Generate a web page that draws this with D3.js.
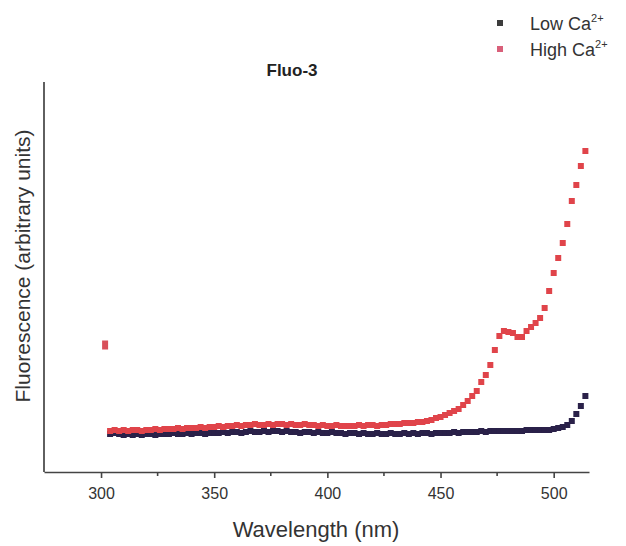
<!DOCTYPE html>
<html>
<head>
<meta charset="utf-8">
<script src="https://cdn.jsdelivr.net/npm/d3@7"></script>
<style>
  body { margin: 0; background: #fff; }
  svg { display: block; font-family: "Liberation Sans", Arial, sans-serif; }
</style>
</head>
<body>
<div id="chart"></div>
<script>
// wavelength (nm), sampled every 2 nm
const wavelength = [304,306,308,310,312,314,316,318,320,322,324,326,328,330,332,334,336,338,340,342,344,346,348,350,352,354,356,358,360,362,364,366,368,370,372,374,376,378,380,382,384,386,388,390,392,394,396,398,400,402,404,406,408,410,412,414,416,418,420,422,424,426,428,430,432,434,436,438,440,442,444,446,448,450,452,454,456,458,460,462,464,466,468,470,472,474,476,478,480,482,484,486,488,490,492,494,496,498,500,502,504,506,508,510,512,514];

// fluorescence, arbitrary units
const lowCa = [38,39,38,37,38,37,38,37,38,38,37,38,38,38,39,38,38,39,38,39,39,38,39,39,39,40,39,40,40,39,40,41,40,40,41,40,41,41,40,41,40,40,39,40,40,39,40,39,39,40,39,39,38,39,39,38,39,38,38,39,38,38,39,38,38,39,38,39,38,39,39,38,39,39,39,39,40,39,40,40,40,40,41,40,41,41,41,41,41,41,41,41,42,42,42,42,42,42,43,44,45,47,51,58,66,76];
const highCa = [41,42,41,42,41,42,42,41,42,42,43,42,43,43,43,44,43,44,44,44,45,44,45,45,46,45,46,46,47,46,47,47,48,47,47,48,47,48,48,47,48,47,47,48,47,47,46,47,46,46,47,46,46,46,46,47,46,47,47,46,47,47,48,48,48,49,49,49,50,50,51,52,54,55,57,59,61,63,67,71,76,81,90,97,107,122,136,141,140,139,135,135,141,145,149,154,164,181,199,214,229,248,271,287,306,321];
// stray first point of the high-Ca scan
const highCaStart = [[301.8, 127]];

const xTicks = [300, 350, 400, 450, 500];
const xMinor = [325, 375, 425, 475];

const series = [
  { name: "Low Ca", values: lowCa, color: "#2a2149", legend: "#3c3c3c" },
  { name: "High Ca", values: highCa, color: "#e0444a", legend: "#d9607a" }
];

const width = 626, height = 546;
const m = { left: 44, right: 589, top: 82, bottom: 472 };

const x = d3.scaleLinear().domain([274.8, 515.6]).range([m.left, m.right]);
const y = d3.scaleLinear().domain([0, 390]).range([m.bottom, m.top]);

const svg = d3.select("#chart").append("svg")
  .attr("width", width)
  .attr("height", height);

// markers
const ms = 6;
series.forEach(s => {
  svg.append("g")
    .attr("fill", s.color)
    .selectAll("rect")
    .data(wavelength.map((w, i) => [w, s.values[i]]))
    .join("rect")
      .attr("x", d => x(d[0]) - ms / 2)
      .attr("y", d => y(d[1]) - ms / 2)
      .attr("width", ms)
      .attr("height", ms);
});
svg.append("g")
  .attr("fill", "#d8505a")
  .selectAll("rect")
  .data(highCaStart)
  .join("rect")
    .attr("x", d => x(d[0]) - 3)
    .attr("y", d => y(d[1]) - 4.5)
    .attr("width", 6)
    .attr("height", 9);

// axes
const axisColor = "#444";
svg.append("line")
  .attr("x1", m.left).attr("x2", m.left)
  .attr("y1", m.top).attr("y2", m.bottom)
  .attr("stroke", axisColor).attr("stroke-width", 1.7);

const xAxis = svg.append("g")
  .attr("transform", `translate(0,${m.bottom})`)
  .call(d3.axisBottom(x).tickValues(xTicks).tickSize(6).tickPadding(10).tickSizeOuter(0));
xAxis.select(".domain").attr("stroke", axisColor).attr("stroke-width", 1.7);
xAxis.selectAll(".tick line").attr("stroke", axisColor).attr("stroke-width", 1.6);
xAxis.selectAll(".tick text")
  .attr("fill", "#333")
  .style("font-size", "16px")
  .style("font-family", "\"Liberation Sans\", Arial, sans-serif");

svg.append("g")
  .selectAll("line")
  .data(xMinor)
  .join("line")
    .attr("x1", d => x(d)).attr("x2", d => x(d))
    .attr("y1", m.bottom).attr("y2", m.bottom + 4)
    .attr("stroke", axisColor).attr("stroke-width", 1.6);

// labels
svg.append("text")
  .attr("x", 316).attr("y", 537)
  .attr("text-anchor", "middle")
  .attr("fill", "#333")
  .style("font-size", "22px")
  .text("Wavelength (nm)");

svg.append("text")
  .attr("transform", "translate(30,266) rotate(-90)")
  .attr("text-anchor", "middle")
  .attr("fill", "#333")
  .style("font-size", "21px")
  .text("Fluorescence (arbitrary units)");

svg.append("text")
  .attr("x", 292).attr("y", 76)
  .attr("text-anchor", "middle")
  .attr("fill", "#222")
  .style("font-size", "17px")
  .style("font-weight", "bold")
  .text("Fluo-3");

// legend
const legend = svg.append("g")
  .selectAll("g")
  .data(series)
  .join("g")
    .attr("transform", (d, i) => `translate(500,${23 + i * 26})`);
legend.append("rect")
  .attr("x", -3).attr("y", -3)
  .attr("width", 6).attr("height", 6)
  .attr("fill", d => d.legend);
const lt = legend.append("text")
  .attr("x", 30).attr("y", 7)
  .attr("fill", "#333")
  .style("font-size", "18px")
  .text(d => d.name);
lt.append("tspan")
  .attr("dy", -8)
  .style("font-size", "11px")
  .text("2+");
</script>
</body>
</html>
